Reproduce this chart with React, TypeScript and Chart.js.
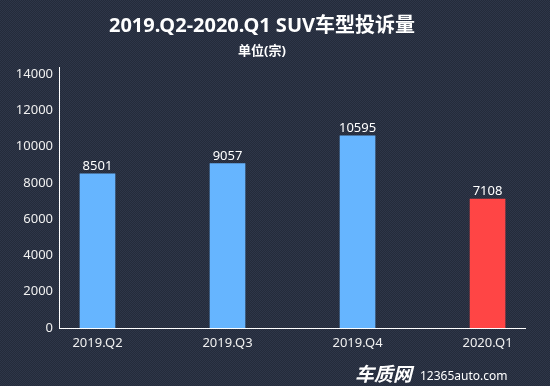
import React, { useEffect, useRef } from "react";
import { Chart, registerables } from "chart.js";

Chart.register(...registerables);

const categories = ["2019.Q2", "2019.Q3", "2019.Q4", "2020.Q1"];
const complaints = [8501, 9057, 10595, 7108];
const barColors = ["#66b5ff", "#66b5ff", "#66b5ff", "#ff4545"];
const yTicks = [0, 2000, 4000, 6000, 8000, 10000, 12000, 14000];
const titleText = "2019.Q2-2020.Q1 SUV车型投诉量";
const subtitleText = "单位(宗)";
const brandText = "车质网";
const siteText = "12365auto.com";

const FONT = '"Noto Sans", "Noto Sans CJK SC", sans-serif';

const bgPlugin = {
  id: "bgPattern",
  beforeDraw(chart: any) {
    const { ctx, width, height } = chart;
    const tile = document.createElement("canvas");
    tile.width = 2;
    tile.height = 2;
    const t = tile.getContext("2d")!;
    t.fillStyle = "#242b3a";
    t.fillRect(0, 0, 2, 2);
    t.fillStyle = "#2e3649";
    t.fillRect(0, 0, 1, 1);
    t.fillRect(1, 1, 1, 1);
    const pat = ctx.createPattern(tile, "repeat");
    ctx.save();
    ctx.fillStyle = pat || "#2a3142";
    ctx.fillRect(0, 0, width, height);
    ctx.restore();
  },
};

const textPlugin = {
  id: "texts",
  afterDraw(chart: any) {
    const { ctx } = chart;
    ctx.save();
    ctx.fillStyle = "#ffffff";
    ctx.textAlign = "center";
    ctx.textBaseline = "alphabetic";
    ctx.font = `bold 20px ${FONT}`;
    ctx.fillText(titleText, 262, 32);
    ctx.font = `bold 13px ${FONT}`;
    ctx.fillText(subtitleText, 262, 55);
    // watermark
    ctx.textAlign = "left";
    ctx.font = `bold italic 19px ${FONT}`;
    ctx.fillText(brandText, 355, 381);
    ctx.font = `12px ${FONT}`;
    ctx.fillText(siteText, 420, 380);
    ctx.restore();
  },
};

const labelPlugin = {
  id: "barLabels",
  afterDatasetsDraw(chart: any) {
    const { ctx } = chart;
    const meta = chart.getDatasetMeta(0);
    ctx.save();
    ctx.fillStyle = "#ffffff";
    ctx.textAlign = "center";
    ctx.textBaseline = "alphabetic";
    ctx.font = `13px ${FONT}`;
    meta.data.forEach((bar: any, i: number) => {
      ctx.fillText(String(complaints[i]), bar.x, bar.y - 4);
    });
    ctx.restore();
  },
};

export default function App() {
  const ref = useRef<HTMLCanvasElement>(null);
  useEffect(() => {
    document.body.style.margin = "0";
    const chart = new Chart(ref.current!, {
      type: "bar",
      data: {
        datasets: [
          {
            data: complaints.map((v, i) => ({ x: i, y: v })),
            backgroundColor: barColors,
            barThickness: 35,
          },
        ],
      },
      options: {
        animation: false,
        responsive: false,
        layout: { padding: { top: 67, right: 25, left: 0, bottom: 0 } },
        plugins: {
          legend: { display: false },
          tooltip: { enabled: false },
        },
        scales: {
          x: {
            type: "linear",
            min: -0.296,
            max: 3.288,
            offset: false,
            grid: { display: false, drawTicks: false },
            border: { display: true, color: "#ffffff", width: 1 },
            afterBuildTicks(scale: any) {
              scale.ticks = categories.map((_, i) => ({ value: i }));
            },
            afterFit(scale: any) {
              scale.height = 58;
            },
            ticks: {
              color: "#f0f0f0",
              font: { family: FONT, size: 13 },
              padding: 7,
              autoSkip: false,
              maxRotation: 0,
              callback: (v: any) => categories[v as number] ?? "",
            },
          },
          y: {
            min: 0,
            max: 14386,
            grid: { display: false, drawTicks: false },
            border: { display: true, color: "#ffffff", width: 1 },
            afterBuildTicks(scale: any) {
              scale.ticks = yTicks.map((v) => ({ value: v }));
            },
            afterFit(scale: any) {
              scale.width = 59;
            },
            ticks: {
              color: "#f0f0f0",
              font: { family: FONT, size: 13 },
              padding: 6,
              callback: (v: any) => String(v),
            },
          },
        },
      },
      plugins: [bgPlugin, labelPlugin, textPlugin],
    });
    return () => chart.destroy();
  }, []);
  return <canvas ref={ref} width={550} height={386} style={{ display: "block" }} />;
}
